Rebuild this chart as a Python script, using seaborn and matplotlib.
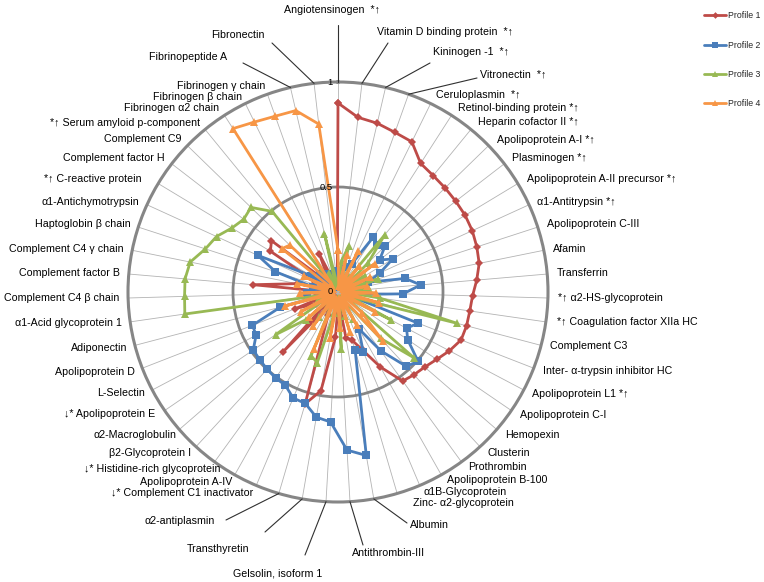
import numpy as np
import pandas as pd
import matplotlib
matplotlib.use("Agg")
import matplotlib.pyplot as plt
from matplotlib.lines import Line2D
import seaborn as sns

# ---------------- data ----------------
categories = [
    "Angiotensinogen  *↑", "Vitamin D binding protein  *↑", "Kininogen -1  *↑", "Vitronectin  *↑",
    "Ceruloplasmin  *↑", "Retinol-binding protein *↑", "Heparin cofactor II *↑", "Apolipoprotein A-I *↑",
    "Plasminogen *↑", "Apolipoprotein A-II precursor *↑", "α1-Antitrypsin *↑", "Apolipoprotein C-III",
    "Afamin", "Transferrin", "*↑ α2-HS-glycoprotein", "*↑ Coagulation factor XIIa HC",
    "Complement C3", "Inter- α-trypsin inhibitor HC", "Apolipoprotein L1 *↑", "Apolipoprotein C-I",
    "Hemopexin", "Clusterin", "Prothrombin", "Apolipoprotein B-100",
    "α1B-Glycoprotein", "Zinc- α2-glycoprotein", "Albumin", "Antithrombin-III",
    "Gelsolin, isoform 1", "Transthyretin", "α2-antiplasmin", "↓* Complement C1 inactivator",
    "Apolipoprotein A-IV", "↓* Histidine-rich glycoprotein", "β2-Glycoprotein I", "α2-Macroglobulin",
    "↓* Apolipoprotein E", "L-Selectin", "Apolipoprotein D", "Adiponectin",
    "α1-Acid glycoprotein 1", "Complement C4 β chain", "Complement factor B", "Complement C4 γ chain",
    "Haptoglobin β chain", "α1-Antichymotrypsin", "*↑ C-reactive protein", "Complement factor H",
    "Complement C9", "*↑ Serum amyloid p-component", "Fibrinogen α2 chain", "Fibrinogen β chain",
    "Fibrinogen γ chain", "Fibrinopeptide A", "Fibronectin",
]

profile1 = [0.90, 0.837, 0.825, 0.807, 0.797, 0.728, 0.716, 0.711, 0.708, 0.707,
            0.703, 0.695, 0.686, 0.663, 0.641, 0.634, 0.633, 0.629, 0.600, 0.569,
            0.546, 0.535, 0.524, 0.410, 0.300, 0.240, 0.220, 0.040, 0.216, 0.477,
            0.555, 0.120, 0.030, 0.100, 0.385, 0.050, 0.030, 0.120, 0.219, 0.040,
            0.100, 0.030, 0.405, 0.200, 0.050, 0.120, 0.376, 0.400, 0.060, 0.030,
            0.100, 0.200, 0.040, 0.100, 0.030]

profile2 = [0.10, 0.03, 0.12, 0.04, 0.15, 0.310, 0.290, 0.311, 0.250, 0.304,
            0.220, 0.150, 0.326, 0.395, 0.310, 0.080, 0.040, 0.410, 0.369, 0.402,
            0.505, 0.480, 0.346, 0.200, 0.308, 0.290, 0.790, 0.754, 0.620, 0.605,
            0.553, 0.548, 0.510, 0.506, 0.499, 0.493, 0.489, 0.441, 0.437, 0.284,
            0.040, 0.150, 0.060, 0.120, 0.313, 0.420, 0.150, 0.040, 0.120, 0.030,
            0.100, 0.050, 0.080, 0.030, 0.100]

profile3 = [0.05, 0.15, 0.223, 0.04, 0.10, 0.03, 0.352, 0.20, 0.05, 0.15,
            0.03, 0.20, 0.05, 0.15, 0.03, 0.20, 0.585, 0.06, 0.288, 0.04,
            0.478, 0.30, 0.05, 0.15, 0.03, 0.12, 0.05, 0.27, 0.03, 0.10,
            0.35, 0.33, 0.05, 0.15, 0.03, 0.20, 0.36, 0.06, 0.10, 0.04,
            0.737, 0.731, 0.731, 0.718, 0.664, 0.636, 0.590, 0.567, 0.578, 0.496,
            0.04, 0.10, 0.03, 0.286, 0.04]

profile4 = [0.20, 0.03, 0.18, 0.04, 0.22, 0.03, 0.16, 0.05, 0.222, 0.03,
            0.17, 0.04, 0.14, 0.03, 0.18, 0.05, 0.20, 0.03, 0.20, 0.04,
            0.15, 0.314, 0.03, 0.18, 0.04, 0.20, 0.03, 0.17, 0.05, 0.22,
            0.03, 0.293, 0.04, 0.20, 0.03, 0.18, 0.05, 0.20, 0.03, 0.262,
            0.04, 0.18, 0.03, 0.20, 0.05, 0.18, 0.03, 0.338, 0.32, 0.05,
            0.925, 0.902, 0.889, 0.887, 0.805]

profile_names = ["Profile 1", "Profile 2", "Profile 3", "Profile 4"]
radial_ticks = [0, 0.5, 1]
radial_labels = ["0", "0.5", "1"]

# ---------------- layout / style ----------------
W, H = 764, 582
CX, CY, R = 338, 292, 210          # polar centre and radius in pixels
colors = ["#BE4B48", "#4A7EBB", "#98B954", "#F79646"]
markers = ["D", "s", "^", "^"]
msizes = [4.5, 6, 6, 6]

# label anchor (x px, y px, ha) per category
label_pos = [
    (332, 10, "center"), (377, 32, "left"), (433, 52, "left"), (480, 74, "left"),
    (436, 95, "left"), (458, 108, "left"), (478, 122, "left"), (497, 140, "left"),
    (512, 158, "left"), (527, 179, "left"), (537, 202, "left"), (547, 224, "left"),
    (553, 249, "left"), (557, 273, "left"), (558, 298, "left"), (557, 322, "left"),
    (550, 346, "left"), (543, 371, "left"), (532, 394, "left"), (520, 415, "left"),
    (505, 435, "left"), (487, 453, "left"), (468, 467, "left"), (447, 480, "left"),
    (424, 492, "left"), (413, 503, "left"), (410, 525, "left"), (352, 553, "left"),
    (233, 573, "left"), (187, 549, "left"), (215, 521, "right"), (253, 493, "right"),
    (232, 482, "right"), (220, 469, "right"), (191, 453, "right"), (176, 435, "right"),
    (155, 414, "right"), (145, 393, "right"), (135, 372, "right"), (127, 348, "right"),
    (122, 323, "right"), (119, 298, "right"), (120, 273, "right"), (124, 249, "right"),
    (131, 224, "right"), (139, 202, "right"), (142, 179, "right"), (165, 158, "right"),
    (182, 139, "right"), (200, 123, "right"), (219, 108, "right"), (242, 97, "right"),
    (265, 86, "right"), (227, 57, "right"), (265, 35, "right"),
]
# leader lines: category index -> outer end point (px)
leaders = {0: (338, 25), 1: (388, 43), 2: (430, 63), 3: (477, 78),
           26: (407, 523), 27: (363, 545), 28: (305, 555), 29: (265, 532),
           30: (226, 520), 53: (243, 63), 54: (272, 43)}

sns.set_style("white")
plt.rcParams["font.family"] = ["Liberation Sans", "DejaVu Sans"]

fig = plt.figure(figsize=(W / 100, H / 100), dpi=100)
ax = fig.add_axes([(CX - R) / W, (H - CY - R) / H, 2 * R / W, 2 * R / H], projection="polar")
ax.set_theta_zero_location("N")
ax.set_theta_direction(-1)

n = len(categories)
theta = np.linspace(0, 2 * np.pi, n, endpoint=False)
theta_closed = np.append(theta, 2 * np.pi)

profiles = [profile1, profile2, profile3, profile4]
handles = []
for name, vals, c, m, ms in zip(profile_names, profiles, colors, markers, msizes):
    df = pd.DataFrame({"theta": theta_closed, "value": np.append(vals, vals[0])})
    sns.lineplot(data=df, x="theta", y="value", sort=False, estimator=None, ax=ax,
                 color=c, lw=2.0, marker=m, markersize=ms, markeredgewidth=0,
                 markerfacecolor=c, legend=False)
    handles.append(Line2D([0], [0], color=c, lw=2.0, marker=m, markersize=ms * 0.75,
                          markeredgewidth=0, label=name))

ax.set_xlabel("")
ax.set_ylabel("")
ax.set_ylim(0, 1)
ax.set_xticks(theta)
ax.set_xticklabels([])
ax.set_yticks([0.5])
ax.set_yticklabels([])
ax.xaxis.grid(True, color="#B3B3B3", lw=0.6)
ax.yaxis.grid(True, color="#868686", lw=2.0)
ax.spines["polar"].set_color("#868686")
ax.spines["polar"].set_linewidth(2.2)

# radial value labels just left of the top spoke
for rv, rl in zip(radial_ticks, radial_labels):
    fig.text((CX - 5) / W, (H - (CY - R * rv)) / H, rl, ha="right", va="center",
             fontsize=6.8, color="#000000")

# category labels and leader lines
for i, (lab, (x, y, ha)) in enumerate(zip(categories, label_pos)):
    fig.text(x / W, 1 - y / H, lab, ha=ha, va="center", fontsize=7.7, color="#000000")
for i, (ox, oy) in leaders.items():
    ix = CX + R * np.sin(theta[i])
    iy = CY - R * np.cos(theta[i])
    fig.add_artist(Line2D([ix / W, ox / W], [1 - iy / H, 1 - oy / H],
                          transform=fig.transFigure, color="#303030", lw=0.8))

fig.legend(handles=handles, loc="upper left", bbox_to_anchor=(700 / W, 1 - 8 / H),
           frameon=False, fontsize=6.3, handlelength=2.6, labelspacing=2.3,
           handletextpad=0.15, borderaxespad=0)

fig.savefig("out.png", dpi=100)
